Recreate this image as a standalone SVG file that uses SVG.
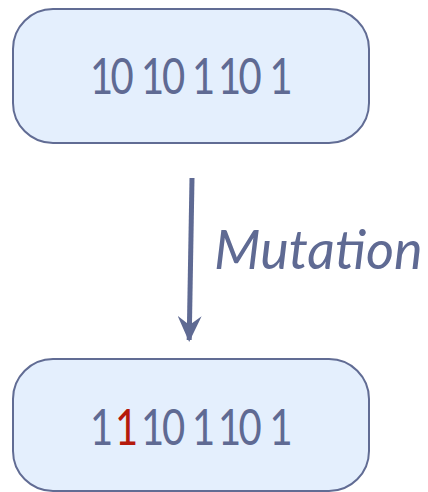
<svg xmlns="http://www.w3.org/2000/svg" width="428" height="492" viewBox="0 0 428 492">
  <style>
    .box { fill: #e4effd; stroke: #616c94; stroke-width: 2; }
    .bits { font-family: "Lato", "Open Sans", sans-serif; font-size: 50px; fill: #5f6a93; text-anchor: middle; }
    .flip { fill: #b51a0c; }
    .label { font-family: "Lato", "Open Sans", sans-serif; font-style: italic; font-size: 54px; fill: #5f6a93; }
    .conn { stroke: #5f6a93; stroke-width: 5; fill: none; }
  </style>
  <defs>
    <!-- arrowhead drawn pointing along +x, rotated by orient="auto" -->
    <marker id="head" viewBox="0 0 26 24" refX="24" refY="12" markerWidth="26" markerHeight="24" markerUnits="userSpaceOnUse" orient="auto">
      <path d="M0,0 L9,12 L0,24 L26,12 Z" fill="#5f6a93"/>
    </marker>
  </defs>

  <g id="parent">
    <rect class="box" x="13" y="9" width="356" height="134" rx="40" ry="40"/>
    <!-- bit string, glyphs narrowed horizontally; x values are in the scaled space -->
    <text class="bits" transform="scale(0.8,1)" x="126.875 152.5 190.625 216.875 254.375 286.875 312.5 351.25" y="94">10101101</text>
  </g>

  <g id="child">
    <rect class="box" x="13" y="359" width="356" height="132" rx="40" ry="40"/>
    <text class="bits" transform="scale(0.8,1)" x="126.875 158.125 190.625 216.875 254.375 286.875 312.5 351.25" y="445">1<tspan class="flip">1</tspan>101101</text>
  </g>

  <g id="connectors">
    <path class="conn" d="M192,178 L189.2,340" marker-end="url(#head)"/>
    <text class="label" x="214" y="269">Mutation</text>
  </g>
</svg>
